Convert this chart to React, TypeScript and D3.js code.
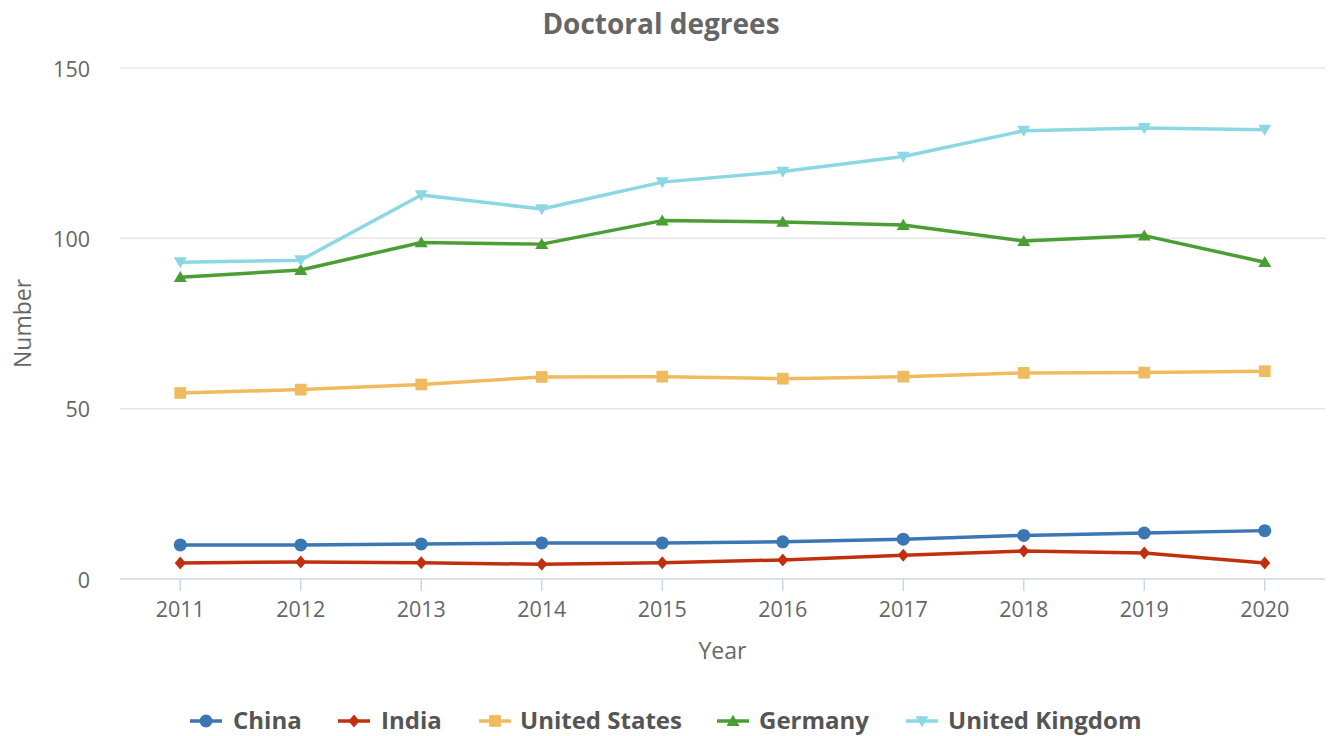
import React from "react";
import * as d3 from "d3";

const years = ["2011","2012","2013","2014","2015","2016","2017","2018","2019","2020"];
const china = [10.0, 10.0, 10.3, 10.6, 10.6, 10.9, 11.7, 12.8, 13.5, 14.2];
const india = [4.7, 5.0, 4.8, 4.3, 4.8, 5.6, 7.0, 8.2, 7.6, 4.7];
const unitedStates = [54.6, 55.6, 57.1, 59.3, 59.4, 58.8, 59.4, 60.5, 60.6, 61.0];
const germany = [88.6, 90.7, 98.8, 98.3, 105.2, 104.8, 103.9, 99.2, 100.8, 93.0];
const unitedKingdom = [93.0, 93.6, 112.7, 108.6, 116.5, 119.6, 124.0, 131.6, 132.4, 131.9];
const yTicks = [0, 50, 100, 150];

const series = [
  { name: "China", values: china, color: "#3a77b3", symbol: "circle" },
  { name: "India", values: india, color: "#c0300f", symbol: "diamond" },
  { name: "United States", values: unitedStates, color: "#f0ba5e", symbol: "square" },
  { name: "Germany", values: germany, color: "#4a9e33", symbol: "triangle" },
  { name: "United Kingdom", values: unitedKingdom, color: "#8bd8e4", symbol: "down" },
];

const W = 1331, H = 736;
const left = 120, right = 1325, top = 68, bottom = 579;
const FONT = "'Open Sans', sans-serif";

function marker(sym: string, r: number) {
  if (sym === "down") return `M${-r},${-r * 0.75}L${r},${-r * 0.75}L0,${r * 0.95}Z`;
  if (sym === "triangle") return `M0,${-r * 0.95}L${r},${r * 0.75}L${-r},${r * 0.75}Z`;
  if (sym === "diamond") return `M0,${-r}L${r * 0.85},0L0,${r}L${-r * 0.85},0Z`;
  if (sym === "square") {
    const s = r * 0.9;
    return `M${-s},${-s}H${s}V${s}H${-s}Z`;
  }
  return d3.symbol().type(d3.symbolCircle).size(Math.PI * r * r)()!;
}

export default function App() {
  const x = d3.scaleBand<string>().domain(years).range([left, right]);
  const y = d3.scaleLinear().domain([0, 150]).range([bottom, top]);
  const cx = (d: string) => (x(d) ?? 0) + x.bandwidth() / 2;
  const line = d3.line<number>().x((_, i) => cx(years[i])).y((v) => y(v));

  const legendItems = [
    { sx: 206, tx: 233 },
    { sx: 354, tx: 381 },
    { sx: 495, tx: 520 },
    { sx: 733, tx: 759 },
    { sx: 922, tx: 948 },
  ];

  return (
    <svg width={W} height={H} style={{ position: "absolute", left: 0, top: 0 }} fontFamily={FONT}>
      <rect width={W} height={H} fill="#fff" />
      <text x={661} y={34} textAnchor="middle" fontSize={28} fontWeight="bold" fill="#666">
        Doctoral degrees
      </text>
      {yTicks.map((t) => (
        <g key={t}>
          {t !== 0 && <line x1={left} x2={right} y1={y(t)} y2={y(t)} stroke="#e6e6e6" strokeWidth={1.5} />}
          <text x={90} y={y(t) + 8.5} textAnchor="end" fontSize={21.5} fill="#666">
            {t}
          </text>
        </g>
      ))}
      <line x1={left} x2={right} y1={bottom} y2={bottom} stroke="#ccd6eb" strokeWidth={1.5} />
      {years.map((yr) => (
        <g key={yr}>
          <line x1={cx(yr)} x2={cx(yr)} y1={bottom} y2={bottom + 12} stroke="#ccd6eb" strokeWidth={1.5} />
          <text x={cx(yr)} y={617} textAnchor="middle" fontSize={21.5} fill="#666">
            {yr}
          </text>
        </g>
      ))}
      <text x={(left + right) / 2} y={659} textAnchor="middle" fontSize={23} fill="#666">
        Year
      </text>
      <text transform={`translate(31,${(top + bottom) / 2}) rotate(-90)`} textAnchor="middle" fontSize={23} fill="#666">
        Number
      </text>
      {series.map((s) => (
        <g key={s.name}>
          <path d={line(s.values) ?? ""} fill="none" stroke={s.color} strokeWidth={3.5} strokeLinejoin="round" />
          {s.values.map((v, i) => (
            <path key={i} d={marker(s.symbol, 6.5)} transform={`translate(${cx(years[i])},${y(v)})`} fill={s.color} />
          ))}
        </g>
      ))}
      {series.map((s, i) => (
        <g key={s.name}>
          <line x1={legendItems[i].sx - 16} x2={legendItems[i].sx + 16} y1={721} y2={721} stroke={s.color} strokeWidth={3.5} />
          <path d={marker(s.symbol, 6.5)} transform={`translate(${legendItems[i].sx},721)`} fill={s.color} />
          <text x={legendItems[i].tx} y={729} fontSize={24} fontWeight="bold" fill="#555">
            {s.name}
          </text>
        </g>
      ))}
    </svg>
  );
}
